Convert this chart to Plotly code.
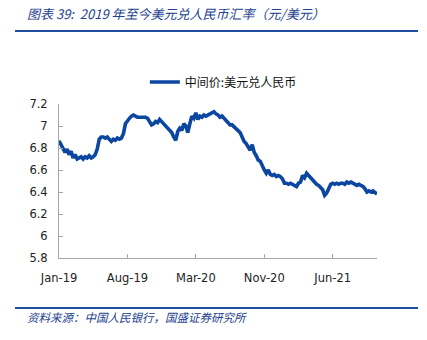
import plotly.graph_objects as go

# USD/CNY central parity, sampled along the chart period (Jan-2019 onward)
usdcny = [
    6.865, 6.83, 6.78, 6.76, 6.79, 6.74, 6.77, 6.71, 6.74, 6.70,
    6.71, 6.72, 6.70, 6.72, 6.71, 6.73, 6.71, 6.72, 6.74, 6.79,
    6.88, 6.90, 6.90, 6.89, 6.90, 6.88, 6.86, 6.88, 6.87, 6.89,
    6.88, 6.89, 6.93, 7.02, 7.05, 7.07, 7.09, 7.10, 7.09, 7.08,
    7.08, 7.08, 7.08, 7.08, 7.07, 7.04, 7.01, 7.02, 7.04, 7.03,
    7.06, 7.04, 7.02, 7.00, 6.98, 6.96, 6.94, 6.90, 6.87, 6.95,
    6.98, 6.96, 7.02, 7.00, 6.94, 7.02, 7.09, 7.07, 7.12, 7.06,
    7.09, 7.08, 7.10, 7.09, 7.10, 7.11, 7.12, 7.13, 7.11, 7.10,
    7.08, 7.09, 7.07, 7.05, 7.02, 7.01, 7.01, 6.99, 6.97, 6.96,
    6.94, 6.90, 6.86, 6.84, 6.81, 6.78, 6.83, 6.76, 6.73, 6.69,
    6.68, 6.63, 6.60, 6.57, 6.60, 6.56, 6.55, 6.56, 6.54, 6.55,
    6.54, 6.52, 6.48, 6.48, 6.47, 6.48, 6.47, 6.46, 6.45, 6.48,
    6.49, 6.55, 6.53, 6.57, 6.55, 6.52, 6.50, 6.49, 6.47, 6.46,
    6.44, 6.42, 6.37, 6.39, 6.43, 6.47, 6.48, 6.47, 6.48, 6.47,
    6.48, 6.48, 6.47, 6.49, 6.48, 6.49, 6.48, 6.47, 6.46, 6.47,
    6.46, 6.45, 6.43, 6.40, 6.41, 6.40, 6.41, 6.39, 6.38,
]
tick_labels = ["Jan-19", "Aug-19", "Mar-20", "Nov-20", "Jun-21"]
tick_step = 34
y_ticks = [5.8, 6, 6.2, 6.4, 6.6, 6.8, 7, 7.2]

x_idx = list(range(len(usdcny)))
tick_pos = [k * tick_step for k in range(len(tick_labels))]

LINE_BLUE = "#0B47A1"
HEAD_BLUE = "#1F4E9E"
TEXT_BLUE = "#23408E"
AXIS_GRAY = "#A6A6A6"

fig = go.Figure()
fig.add_trace(go.Scatter(
    x=x_idx, y=usdcny, mode="lines", name="中间价:美元兑人民币",
    line=dict(color=LINE_BLUE, width=3.6, shape="linear"),
))

W, H = 427, 340
ml, mr, mt, mb = 59, 50, 104, 82
fig.update_layout(
    width=W, height=H,
    margin=dict(l=ml, r=mr, t=mt, b=mb, pad=0),
    paper_bgcolor="white", plot_bgcolor="white",
    showlegend=True,
    legend=dict(
        orientation="h", x=0.27, y=(H - 82 - mb) / (H - mt - mb),
        xanchor="left", yanchor="middle",
        font=dict(family="Noto Sans CJK SC", size=12, color="#111111"),
        bgcolor="rgba(0,0,0,0)", itemwidth=30,
    ),
    font=dict(family="DejaVu Sans", size=12, color="#333333"),
)
fig.update_xaxes(
    range=[0, len(usdcny) - 1], tickvals=tick_pos, ticktext=tick_labels,
    showline=True, linecolor=AXIS_GRAY, linewidth=1,
    ticks="inside", ticklen=4, tickcolor=AXIS_GRAY,
    showgrid=False, zeroline=False,
    tickfont=dict(family="DejaVu Sans", size=11.5, color="#222222"),
    ticklabelstandoff=9,
)
fig.update_yaxes(
    range=[5.8, 7.2], tickvals=y_ticks,
    ticktext=[f"{v:g}" for v in y_ticks],
    showline=True, linecolor=AXIS_GRAY, linewidth=1,
    ticks="inside", ticklen=4, tickcolor=AXIS_GRAY,
    showgrid=False, zeroline=False,
    tickfont=dict(family="DejaVu Sans", size=11.5, color="#222222"),
    ticklabelstandoff=8,
)

# header and footer rules
for yy in (31, 308):
    fig.add_shape(type="line", xref="paper", yref="paper",
                  x0=(15 - ml) / (W - ml - mr), x1=(418 - ml) / (W - ml - mr),
                  y0=(H - mb - yy) / (H - mt - mb), y1=(H - mb - yy) / (H - mt - mb),
                  line=dict(color=HEAD_BLUE, width=2))

fig.add_annotation(
    text="<i>图表 39:  2019 年至今美元兑人民币汇率（元/美元）</i>",
    xref="paper", yref="paper",
    x=(25 - ml) / (W - ml - mr), y=(H - mb - 13) / (H - mt - mb),
    xanchor="left", yanchor="middle", showarrow=False,
    font=dict(family="Noto Sans CJK SC", size=13, color=TEXT_BLUE),
)
fig.add_annotation(
    text="<i>资料来源：中国人民银行，国盛证券研究所</i>",
    xref="paper", yref="paper",
    x=(25 - ml) / (W - ml - mr), y=(H - mb - 317) / (H - mt - mb),
    xanchor="left", yanchor="middle", showarrow=False,
    font=dict(family="Noto Sans CJK SC", size=11.5, color=TEXT_BLUE),
)

fig.write_html("out.html")
